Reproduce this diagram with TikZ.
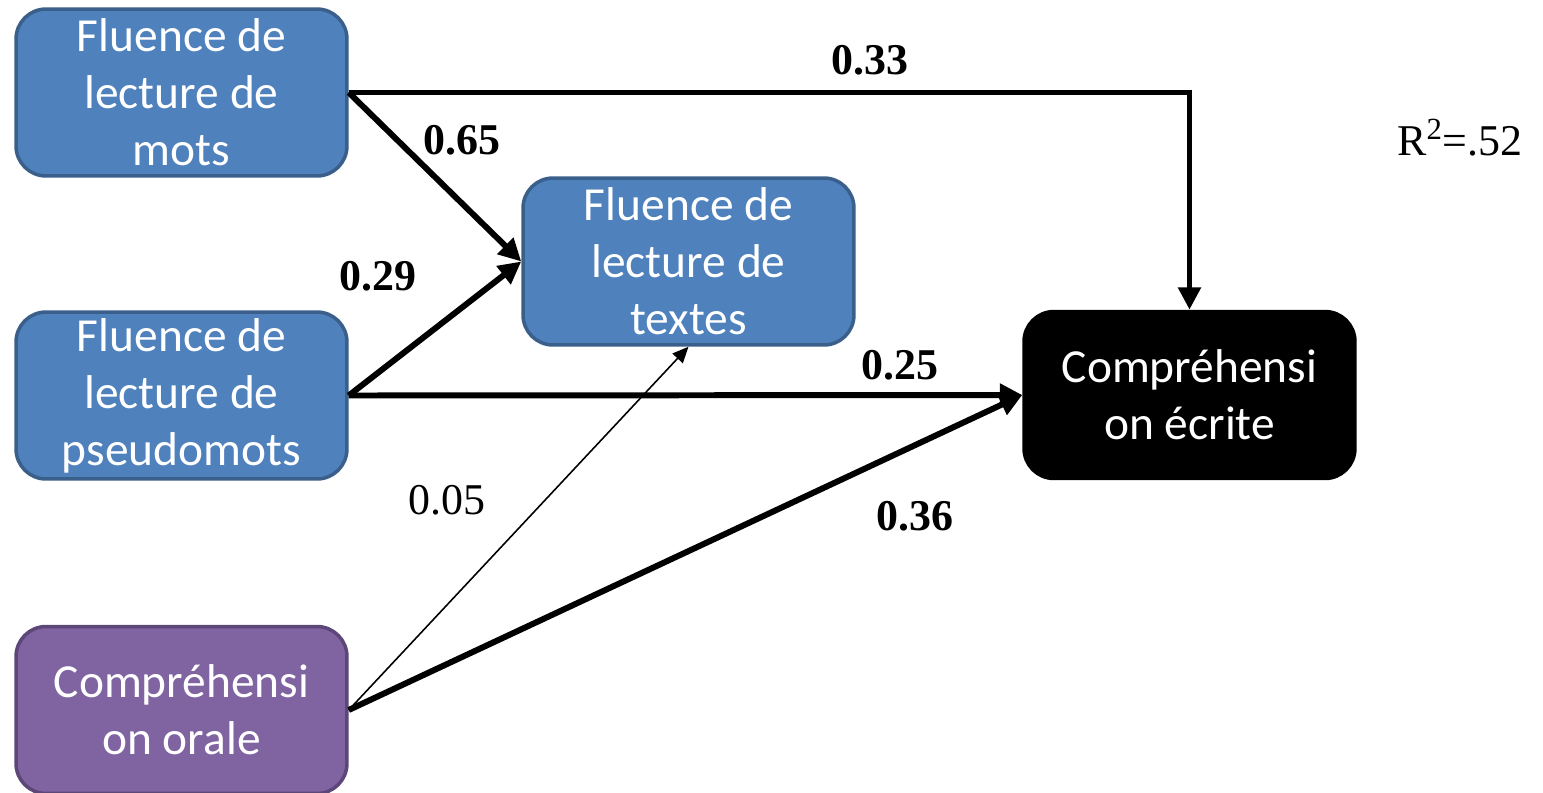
\documentclass[tikz,border=0pt]{standalone}
\usepackage{fontspec}
\setmainfont{Liberation Serif}
\newfontfamily\boxfont{Carlito}
\usetikzlibrary{arrows.meta}
\definecolor{bluefill}{HTML}{4F81BD}
\definecolor{blueline}{HTML}{3A5F8B}
\definecolor{purplefill}{HTML}{8064A2}
\definecolor{purpleline}{HTML}{5C4778}
\begin{document}
\begin{tikzpicture}[x=0.02cm,y=-0.02cm,
  box/.style={rounded corners=0.6cm, minimum width=6.62cm, minimum height=3.34cm,
    inner sep=0pt, align=center, text=white, line width=2pt,
    font=\boxfont\fontsize{27}{32.5}\selectfont},
  bluebox/.style={box, fill=bluefill, draw=blueline},
  purplebox/.style={box, fill=purplefill, draw=purpleline},
  blackbox/.style={box, fill=black, draw=black},
  strong/.style={line width=3.4pt, -{Triangle[length=0.45cm,width=0.44cm]}},
  weak/.style={line width=0.9pt, -{Triangle[length=0.32cm,width=0.28cm]}},
  wt/.style={font=\bfseries\fontsize{25}{30}\selectfont},
  wtlight/.style={font=\fontsize{25}{30}\selectfont}]
\useasboundingbox (0,0) rectangle (1543,792);

% variables
\node[bluebox] (mots) at (181.5,92.5) {Fluence de\\lecture de\\mots};
\node[bluebox] (pseudo) at (181.5,395.5) {Fluence de\\lecture de\\pseudomots};
\node[bluebox] (textes) at (688.5,261.5) {Fluence de\\lecture de\\textes};
\node[purplebox] (orale) at (181.5,710) {Compréhensi\\on orale};
\node[blackbox] (ecrite) at (1189.5,395) {Compréhensi\\on écrite};

% paths
\draw[strong] (mots.east) -| (ecrite.north);
\draw[strong] (mots.east) -- (textes.west);
\draw[strong] (pseudo.east) -- (textes.west);
\draw[strong] (pseudo.east) -- (ecrite.west);
\draw[strong] (orale.east) -- (ecrite.west);
\draw[weak] (orale.east) -- (textes.south);

% coefficients
\node[wt] (c33) at (870,60) {0.33};
\node[wt] (c65) at (462,140) {0.65};
\node[wt] (c29) at (378,276) {0.29};
\node[wt] (c25) at (900,365) {0.25};
\node[wt] (c36) at (915,516) {0.36};
\node[wtlight] (c05) at (447,500) {0.05};
\node[wtlight] (rsq) at (1460,138) {R\textsuperscript{2}=.52};
\end{tikzpicture}
\end{document}
